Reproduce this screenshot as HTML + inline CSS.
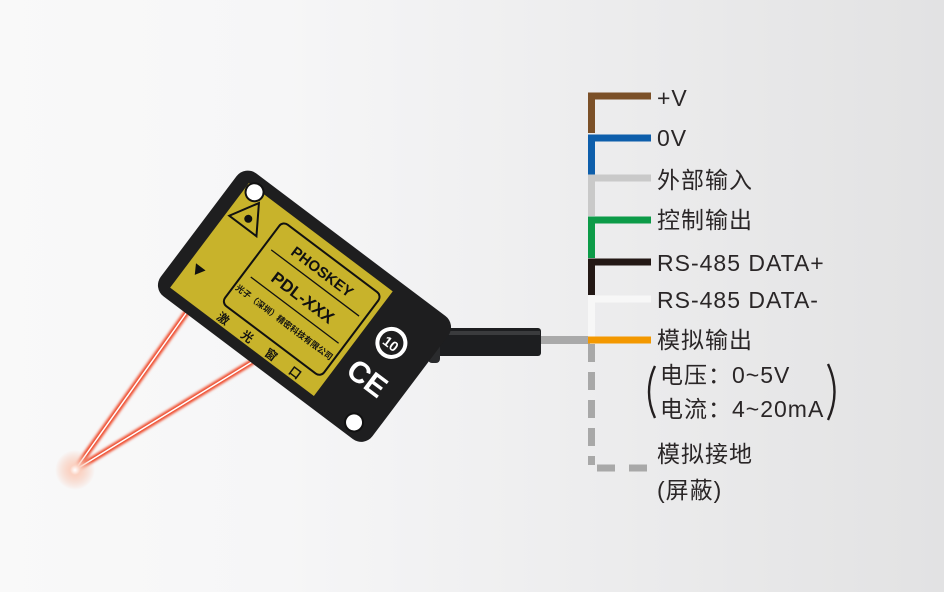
<!DOCTYPE html>
<html><head><meta charset="utf-8"><style>
html,body{margin:0;padding:0}
body{width:944px;height:592px;overflow:hidden;position:relative;
background:linear-gradient(90deg,#f9f9f9 0%,#f6f6f7 30%,#ececed 65%,#e2e2e3 100%);
font-family:"Liberation Sans","Noto Sans CJK SC",sans-serif;}
.t{position:absolute;left:657px;font-size:23px;letter-spacing:1px;color:#2a2627;line-height:1;white-space:nowrap}
</style></head><body>
<svg width="944" height="592" style="position:absolute;left:0;top:0">
<defs>
<radialGradient id="dot"><stop offset="0" stop-color="#fff"/><stop offset="0.25" stop-color="#fbd2c2"/><stop offset="1" stop-color="#f6c2ae" stop-opacity="0"/></radialGradient>
<filter id="bl"><feGaussianBlur stdDeviation="1.2"/></filter>
</defs>
<g filter="url(#bl)" stroke="#ee4a2a" stroke-width="6" stroke-linecap="round">
<line x1="187" y1="312" x2="75" y2="470"/><line x1="252" y1="362" x2="75" y2="470"/></g>
<g stroke="#fff" stroke-width="1.5"><line x1="187" y1="312" x2="75" y2="470"/><line x1="252" y1="362" x2="75" y2="470"/></g>
<circle cx="75" cy="470" r="20" fill="url(#dot)"/>
<rect x="430" y="328" width="111" height="28" rx="3" fill="#1d1e20"/>
<rect x="440" y="331" width="100" height="4" fill="#3a3b3d"/>
<rect x="428" y="321" width="12" height="42" rx="4" fill="#2a2b2d"/>
<rect x="541" y="336" width="49" height="8" fill="#a9a9a9"/>
<g transform="translate(247,169) rotate(37)">
<rect x="-4" y="-2" width="265" height="154" rx="14" fill="#1e1e1f"/>
<rect x="10" y="10" width="180" height="131" fill="#c8b32b"/>
<circle cx="20" cy="14" r="9" fill="#fff" stroke="#111" stroke-width="2"/>
<circle cx="238" cy="138" r="9" fill="#fff" stroke="#111" stroke-width="2"/>
<rect x="60" y="20" width="124" height="102" rx="6" fill="none" stroke="#111" stroke-width="2"/>
<text x="122" y="42" font-size="15" font-weight="bold" text-anchor="middle" fill="#111" font-family="Liberation Sans">PHOSKEY</text>
<line x1="68" y1="50" x2="178" y2="50" stroke="#111" stroke-width="1.3"/>
<text x="122" y="75" font-size="17" font-weight="bold" text-anchor="middle" fill="#111" font-family="Liberation Sans">PDL-XXX</text>
<line x1="68" y1="84" x2="178" y2="84" stroke="#111" stroke-width="1.3"/>
<text x="122" y="103" font-size="8.5" font-weight="bold" text-anchor="middle" fill="#111">光子（深圳）精密科技有限公司</text>
<polygon points="30,20 48,48 14,48" fill="none" stroke="#111" stroke-width="2"/>
<circle cx="31" cy="39" r="4" fill="#111"/>
<polygon points="16,106 28,106 22,116" fill="#111"/>
<text x="65" y="138" font-size="12" font-weight="bold" fill="#111" letter-spacing="18">激光窗口</text>
<circle cx="220" cy="52" r="14" fill="none" stroke="#fff" stroke-width="4"/>
<text x="220" y="58" font-size="14" font-weight="bold" text-anchor="middle" fill="#fff" font-family="Liberation Sans">10</text>
<text x="222" y="105" font-size="30" font-weight="bold" text-anchor="middle" fill="#fff" font-family="Liberation Sans">CE</text>
</g>
<g stroke-width="7" fill="none">
<path d="M591.5 133 V96 H651" stroke="#7b5028"/>
<path d="M591.5 175 V138 H651" stroke="#0d5eab"/>
<path d="M591.5 216 V178 H651" stroke="#c9c9c9"/>
<path d="M591.5 258 V220 H651" stroke="#0c9b48"/>
<path d="M591.5 295 V262 H651" stroke="#231815"/>
<path d="M591.5 337 V299 H651" stroke="#f7f7f7"/>
<path d="M588 340 H651" stroke="#f39800"/>
<path d="M591.5 344 V465" stroke="#a8a8a8" stroke-dasharray="18,10"/>
<path d="M597 468 H651" stroke="#a8a8a8" stroke-dasharray="18,14"/>
</g>
<path d="M655 366 Q643 392 655 418" stroke="#231f20" stroke-width="2.4" fill="none"/>
<path d="M828 364 Q841 392 828 420" stroke="#231f20" stroke-width="2.4" fill="none"/>
</svg>
<div class="t" style="top:87px">+V</div>
<div class="t" style="top:127px">0V</div>
<div class="t" style="top:169px">外部输入</div>
<div class="t" style="top:209px">控制输出</div>
<div class="t" style="top:252px">RS-485 DATA+</div>
<div class="t" style="top:289px">RS-485 DATA-</div>
<div class="t" style="top:329px">模拟输出</div>
<div class="t" style="top:364px;left:660px">电压：0~5V</div>
<div class="t" style="top:398px;left:660px">电流：4~20mA</div>
<div class="t" style="top:443px">模拟接地</div>
<div class="t" style="top:479px">(屏蔽)</div>
</body></html>
